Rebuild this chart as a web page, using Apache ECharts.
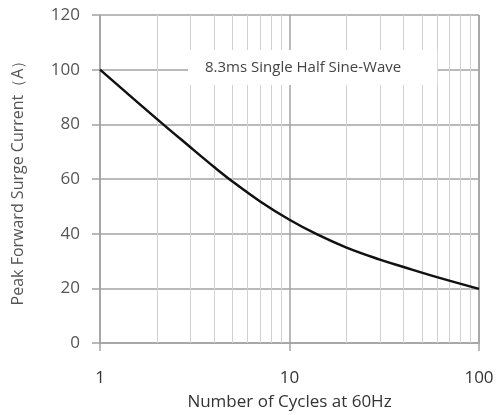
<!DOCTYPE html>
<html>
<head>
<meta charset="utf-8">
<script src="https://cdn.jsdelivr.net/npm/echarts@6/dist/echarts.min.js"></script>
<style>
  html, body { margin: 0; padding: 0; background: #fff; }
  #chart { width: 501px; height: 415px; }
</style>
</head>
<body>
<div id="chart"></div>
<script>
// data
const cycles = [1, 2, 3, 4, 5, 7, 10, 14, 20, 30, 40, 60, 100];
const current = [100, 81.9, 71.6, 64.4, 59.1, 51.8, 45.1, 39.7, 34.9, 30.5, 27.8, 24.1, 19.8];
// minor log grid lines
const minorX = [2, 3, 4, 5, 6, 7, 8, 9, 20, 30, 40, 50, 60, 70, 80, 90];
const noteText = '8.3ms Single Half Sine-Wave';

const font = '"Open Sans", Lato, sans-serif';
const gridColor = '#a3a3a3';

let chart = echarts.init(document.getElementById('chart'));

let option = {
  animation: false,
  grid: { left: 100, right: 22, top: 15, bottom: 72, outerBoundsMode: 'none' },
  xAxis: {
    type: 'log',
    logBase: 10,
    min: 1,
    max: 100,
    interval: 1,
    name: 'Number of Cycles at 60Hz',
    nameLocation: 'middle',
    nameGap: 51,
    nameTextStyle: { fontFamily: font, fontSize: 17, color: '#333' },
    axisLine: { lineStyle: { color: gridColor, width: 1.5 } },
    axisTick: { show: true, length: 8, lineStyle: { color: gridColor, width: 1.5 } },
    axisLabel: { fontFamily: font, fontSize: 17, color: '#333', margin: 27 },
    splitLine: { show: true, lineStyle: { color: gridColor, width: 1.5 } }
  },
  yAxis: {
    type: 'value',
    min: 0,
    max: 120,
    interval: 20,
    name: 'Peak Forward Surge Current（A）',
    nameLocation: 'middle',
    nameGap: 74,
    nameTextStyle: { fontFamily: font, fontSize: 16, color: '#555' },
    axisLine: { show: true, lineStyle: { color: gridColor, width: 1.5 } },
    axisTick: { show: true, length: 8, lineStyle: { color: gridColor, width: 1.5 } },
    axisLabel: { fontFamily: font, fontSize: 17, color: '#555', margin: 20 },
    splitLine: { show: true, lineStyle: { color: gridColor, width: 1.5 } }
  },
  graphic: [
    {
      type: 'text',
      left: 188,
      top: 50,
      z: 10,
      style: {
        text: noteText,
        font: '15px ' + font,
        fill: '#444',
        backgroundColor: '#fff',
        padding: [10, 36, 10, 17]
      }
    }
  ],
  series: [
    {
      type: 'line',
      data: cycles.map((c, i) => [c, current[i]]),
      smooth: 0.4,
      showSymbol: false,
      z: 20,
      lineStyle: { color: '#111', width: 2.5 },
      markLine: {
        silent: true,
        symbol: 'none',
        label: { show: false },
        z: 1,
        lineStyle: { color: '#d2d2d2', width: 1, type: 'solid' },
        data: minorX.map(v => ({ xAxis: v }))
      }
    },
    {
      // right border of the plot
      type: 'line',
      data: [],
      markLine: {
        silent: true,
        symbol: 'none',
        label: { show: false },
        lineStyle: { color: gridColor, width: 1.5, type: 'solid' },
        data: [{ xAxis: 100 }]
      }
    }
  ]
};

chart.setOption(option);
</script>
</body>
</html>
